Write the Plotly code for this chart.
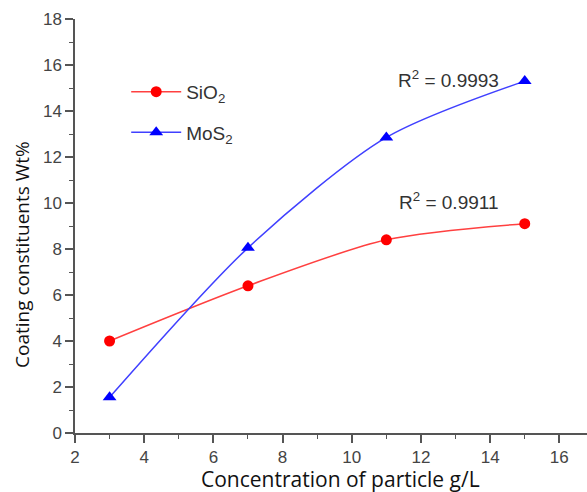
import plotly.graph_objects as go

conc = [3, 7, 11, 15]
sio2 = [4.0, 6.4, 8.4, 9.1]
mos2 = [1.55, 8.05, 12.85, 15.3]
r2_labels = ["R<sup>2</sup> = 0.9993", "R<sup>2</sup> = 0.9911"]

fig = go.Figure()
fig.add_trace(go.Scatter(
    x=conc, y=sio2, mode="lines+markers", name="SiO<sub>2</sub>", legendgroup="a",
    line=dict(color="#ff4040", width=1.5, shape="spline", smoothing=0.8),
    marker=dict(color="#ff0000", size=11, symbol="circle"),
))
fig.add_trace(go.Scatter(
    x=conc, y=mos2, mode="lines+markers", name="MoS<sub>2</sub>", legendgroup="b",
    line=dict(color="#4040ff", width=1.5, shape="spline", smoothing=0.8),
    marker=dict(color="#0000ff", size=12, symbol="triangle-up"),
))

fig.add_annotation(x=12.8, y=15.4, text=r2_labels[0], showarrow=False,
                   font=dict(family="Liberation Sans, Arial", size=19, color="#333333"))
fig.add_annotation(x=12.8, y=10.1, text=r2_labels[1], showarrow=False,
                   font=dict(family="Liberation Sans, Arial", size=19, color="#333333"))

# axis titles as annotations for precise placement
fig.add_annotation(xref="paper", yref="paper", x=0.518, y=-0.112,
                   text="Concentration of particle g/L", showarrow=False,
                   xanchor="center", yanchor="middle",
                   font=dict(family="Open Sans", size=21, color="#111111"))
fig.add_annotation(xref="paper", yref="paper", x=-0.1035, y=0.43,
                   text="Coating constituents Wt%", showarrow=False, textangle=-90,
                   xanchor="center", yanchor="middle",
                   font=dict(family="Open Sans", size=19, color="#111111"))

axis_common = dict(
    showline=True, linecolor="#555555", linewidth=1.5, ticks="outside",
    ticklen=8, tickwidth=1.5, tickcolor="#555555", showgrid=False, zeroline=False,
    tickfont=dict(family="Liberation Sans, Arial", size=17, color="#444444"),
    minor=dict(ticks="outside", ticklen=4, tickwidth=1.2, tickcolor="#555555", dtick=1),
)
fig.update_xaxes(range=[2, 16.8], dtick=2, tick0=2, **axis_common)
fig.update_yaxes(range=[0, 18], dtick=2, tick0=0, **axis_common)

fig.update_layout(
    width=587, height=492, template="none",
    paper_bgcolor="white", plot_bgcolor="white",
    margin=dict(l=75, r=0, t=19, b=59),
    legend=dict(x=0.1, y=0.87, xanchor="left", yanchor="top", traceorder="grouped",
                font=dict(family="Liberation Sans, Arial", size=19, color="#333333"),
                bgcolor="rgba(0,0,0,0)", tracegroupgap=13, itemwidth=50),
    showlegend=True,
)

fig.write_html("out.html")
